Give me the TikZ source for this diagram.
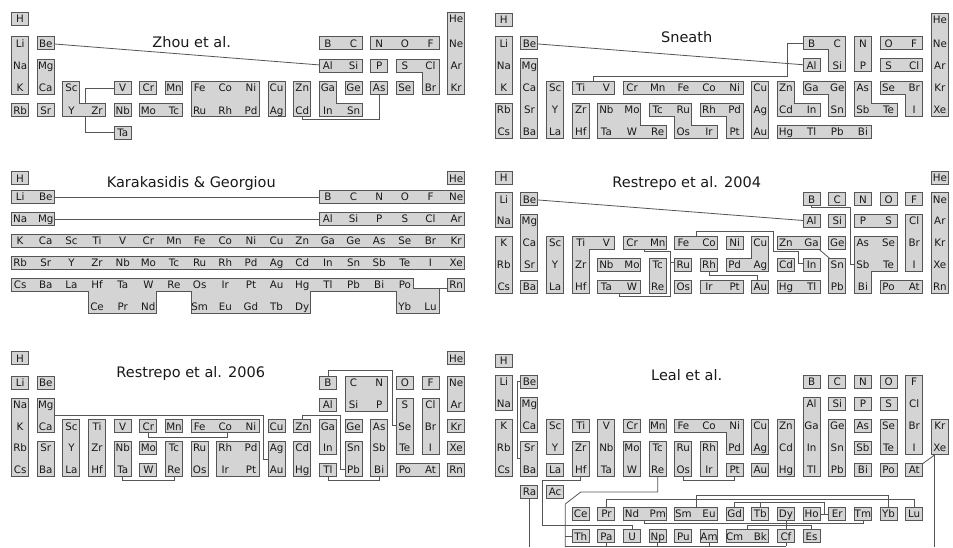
\documentclass[tikz,border=0pt]{standalone}
\usepackage{fontspec}
\setmainfont{DejaVu Sans}
\definecolor{cfill}{RGB}{212,212,212}
\definecolor{cline}{RGB}{85,85,85}
\definecolor{ctext}{RGB}{25,25,25}
\newcommand\Xo{0}\newcommand\Yh{0}\newcommand\Yl{0}\newcommand\Dy{22}
\newcommand\hw{8.0}\newcommand\hh{6.0}
\pgfmathdeclarefunction{cx}{1}{\pgfmathparse{\Xo+(#1-1)*25.65}}
\pgfmathdeclarefunction{cy}{1}{\pgfmathparse{ifthenelse(#1==1,-\Yh,-\Yl-(#1-2)*\Dy)}}
\newcommand\defrow[2]{\foreach \kk/\nn in {#2}{\expandafter\xdef\csname el\kk-#1\endcsname{\nn}}}
\defrow{1}{1/H,18/He}
\defrow{2}{1/Li,2/Be,13/B,14/C,15/N,16/O,17/F,18/Ne}
\defrow{3}{1/Na,2/Mg,13/Al,14/Si,15/P,16/S,17/Cl,18/Ar}
\defrow{4}{1/K,2/Ca,3/Sc,4/Ti,5/V,6/Cr,7/Mn,8/Fe,9/Co,10/Ni,11/Cu,12/Zn,13/Ga,14/Ge,15/As,16/Se,17/Br,18/Kr}
\defrow{5}{1/Rb,2/Sr,3/Y,4/Zr,5/Nb,6/Mo,7/Tc,8/Ru,9/Rh,10/Pd,11/Ag,12/Cd,13/In,14/Sn,15/Sb,16/Te,17/I,18/Xe}
\defrow{6}{1/Cs,2/Ba,3/La,4/Hf,5/Ta,6/W,7/Re,8/Os,9/Ir,10/Pt,11/Au,12/Hg,13/Tl,14/Pb,15/Bi,16/Po,17/At,18/Rn}
\defrow{R}{2/Ra,3/Ac}
\defrow{L}{4/Ce,5/Pr,6/Nd,7/Pm,8/Sm,9/Eu,10/Gd,11/Tb,12/Dy,13/Ho,14/Er,15/Tm,16/Yb,17/Lu}
\defrow{A}{4/Th,5/Pa,6/U,7/Np,8/Pu,9/Am,10/Cm,11/Bk,12/Cf,13/Es}
\newcommand\grp[1]{%
 \foreach \ga/\gb/\gc/\gd in {#1}{\draw[cline,line width=2pt] ({cx(\ga)-\hw},{cy(\gc)+\hh}) rectangle ({cx(\gb)+\hw},{cy(\gd)-\hh});}%
 \foreach \ga/\gb/\gc/\gd in {#1}{\fill[cfill] ({cx(\ga)-\hw},{cy(\gc)+\hh}) rectangle ({cx(\gb)+\hw},{cy(\gd)-\hh});}}
\newcommand\grps[1]{\foreach \gg in {#1}{\expandafter\grp\expandafter{\gg}}}
\newcommand\labs[3]{\foreach \kk in {#3}{\node[lab] at ({cx(\kk)},{cy(#1)-3.8}) {\csname el\kk-#2\endcsname};}}
\tikzset{lab/.style={font=\fontsize{10.3}{12}\selectfont,text=ctext,inner sep=0pt,anchor=base},
 ttl/.style={font=\fontsize{14.5}{17}\selectfont,text=ctext,inner sep=0pt,anchor=base},
 conn/.style={draw=cline,line width=0.8pt}}
\begin{document}
\begin{tikzpicture}[x=1pt,y=1pt]
\useasboundingbox (0,0) rectangle (953,-547);
\fill[white] (0,0) rectangle (953,-547);
% ---------------- Zhou
\begin{scope}
\def\Xo{20.1}\def\Yh{19}\def\Yl{43.3}\def\Dy{22.3}
\node[ttl] (tA) at (191.7,-47.5) {Zhou et al.};
\draw[conn] ({cx(2)},{cy(2)}) -- ({cx(13)},{cy(3)});
\draw[conn] ({cx(5)},{cy(4)}) -- ({cx(3)+13.5},{cy(4)}) -- ({cx(3)+13.5},{cy(6)}) -- ({cx(5)},{cy(6)});
\draw[conn] ({cx(12)},{cy(5)}) -- ({cx(12)},{cy(5)-9.2}) -- ({cx(15)},{cy(5)-9.2}) -- ({cx(15)},{cy(4)});
\grps{{1/1/1/1},{1/1/2/4},{1/1/5/5},{2/2/2/2},{2/2/3/4},{2/2/5/5},{3/3/4/5,3/4/5/5},{5/5/4/4},{5/5/5/5},{5/5/6/6},{6/6/4/4},{7/7/4/4},{6/7/5/5},{8/10/4/5},{11/11/4/5},{12/12/4/5},{13/13/4/5,13/14/5/5},{14/14/4/4},{15/15/4/4},{16/16/4/4},{16/17/3/3,17/17/3/4},{13/14/2/2},{15/17/2/2},{13/14/3/3},{15/15/3/3},{18/18/1/4}}
\labs{1}{1}{1,18}\labs{2}{2}{1,2,13,14,15,16,17,18}\labs{3}{3}{1,2,13,14,15,16,17,18}\labs{4}{4}{1,2,3,5,6,7,8,9,10,11,12,13,14,15,16,17,18}\labs{5}{5}{1,...,14}\labs{6}{6}{5}
\end{scope}
% ---------------- Sneath
\begin{scope}
\def\Xo{503.8}\def\Yh{20}\def\Yl{43.3}\def\Dy{22.1}
\node[ttl] (tB) at (686.7,-42.8) {Sneath};
\draw[conn] ({cx(2)},{cy(2)}) -- ({cx(13)},{cy(3)});
\draw[conn] ({cx(4)+12.8},{cy(4)}) -- ({cx(4)+12.8},{cy(4)+11}) -- ({cx(12)+1},{cy(4)+11}) -- ({cx(12)+1},{cy(2)}) -- ({cx(13)},{cy(2)});
\grps{{1/1/1/1},{1/1/2/4},{1/1/5/6},{2/2/2/2},{2/2/3/6},{3/3/4/6},{4/5/4/4},{4/4/5/6},{6/10/4/4},{5/6/5/6,5/7/6/6},{7/8/5/5,8/8/5/6,8/9/6/6},{9/10/5/5,10/10/5/6},{11/11/4/6},{12/12/4/5,12/13/5/5},{13/14/4/4,14/14/4/5},{12/15/6/6},{15/15/4/5,15/16/5/5},{16/17/4/4,17/17/4/5},{13/14/2/2,14/14/2/3},{13/13/3/3},{15/15/2/3},{16/17/2/2},{16/17/3/3},{18/18/1/5}}
\labs{1}{1}{1,18}\labs{2}{2}{1,2,13,14,15,16,17,18}\labs{3}{3}{1,2,13,14,15,16,17,18}\labs{4}{4}{1,...,18}\labs{5}{5}{1,...,18}\labs{6}{6}{1,...,15}
\end{scope}
% ---------------- Karakasidis
\begin{scope}
\def\Xo{20.1}\def\Yh{178.3}\def\Yl{197}\def\Dy{21.9}
\node[ttl] (tC) at (191.3,-187.5) {Karakasidis \& Georgiou};
\draw[conn] ({cx(2)},{cy(2)}) -- ({cx(13)},{cy(2)});
\draw[conn] ({cx(2)},{cy(3)}) -- ({cx(13)},{cy(3)});
\draw[conn] ({cx(16)},{cy(6)-4}) -- ({cx(18)},{cy(6)-4});
\grps{{1/1/1/1},{18/18/1/1},{1/2/2/2},{13/18/2/2},{1/2/3/3},{13/18/3/3},{1/18/4/4},{1/18/5/5},{18/18/6/6}}
\foreach \ga/\gb/\gc/\gd in {1/16/6/6,4/6/6/7,8/12/6/7}{\draw[cline,line width=2pt] ({cx(\ga)-\hw},{cy(\gc)+\hh}) rectangle ({cx(\gb)+\hw},{cy(\gd)-\hh});}
\draw[cline,line width=2pt] ({cx(16)-\hw},{cy(6)-4}) rectangle ({cx(17)+\hw},{cy(7)-\hh});
\foreach \ga/\gb/\gc/\gd in {1/16/6/6,4/6/6/7,8/12/6/7}{\fill[cfill] ({cx(\ga)-\hw},{cy(\gc)+\hh}) rectangle ({cx(\gb)+\hw},{cy(\gd)-\hh});}
\fill[cfill] ({cx(16)-\hw},{cy(6)-4}) rectangle ({cx(17)+\hw},{cy(7)-\hh});
\labs{1}{1}{1,18}\labs{2}{2}{1,2,13,14,15,16,17,18}\labs{3}{3}{1,2,13,14,15,16,17,18}\labs{4}{4}{1,...,18}\labs{5}{5}{1,...,18}\labs{6}{6}{1,...,16,18}\labs{7}{L}{4,5,6,8,9,10,11,12,16,17}
\end{scope}
% ---------------- Restrepo 2004
\begin{scope}
\def\Xo{503.8}\def\Yh{177.5}\def\Yl{199.3}\def\Dy{21.85}
\node[ttl] (tD) at (686.7,-187.3) {Restrepo et al. 2004};
\draw[conn] ({cx(2)},{cy(2)}) -- ({cx(13)},{cy(3)});
\draw[conn] ({cx(13)},{cy(2)}) -- ({cx(13)},{cy(2)-8.5}) -- ({cx(14)+12.8},{cy(2)-8.5}) -- ({cx(14)+12.8},{cy(5)}) -- ({cx(15)},{cy(5)});
\draw[conn] ({cx(6)+12.8},{cy(4)}) -- ({cx(6)+12.8},{cy(4)-8.5}) -- ({cx(7)+12.8},{cy(4)-8.5}) -- ({cx(7)+12.8},{cy(6)-10}) -- ({cx(5)+12.8},{cy(6)-10}) -- ({cx(5)+12.8},{cy(6)});
\draw[conn] ({cx(7)+12.8},{cy(5)+2}) -- ({cx(8)},{cy(5)+2});
\draw[conn] ({cx(8)+12.8},{cy(4)}) -- ({cx(8)+12.8},{cy(4)+12}) -- ({cx(11)+12.8},{cy(4)+12}) -- ({cx(11)+12.8},{cy(4)-8.6}) -- ({cx(12)+12.8},{cy(4)-8.6}) -- ({cx(12)+12.8},{cy(5)+1}) -- ({cx(13)},{cy(5)+1});
\draw[conn] ({cx(9)},{cy(5)}) -- ({cx(9)},{cy(5)-10.5}) -- ({cx(11)-3},{cy(5)-10.5}) -- ({cx(11)-3},{cy(6)});
\draw[conn] ({cx(13)},{cy(4)}) -- ({cx(14)},{cy(5)});
\grps{{1/1/1/1},{18/18/1/1},{1/1/2/3},{1/1/4/6},{2/2/2/2},{2/2/3/5},{2/2/6/6},{3/3/4/6},{4/5/4/4,4/4/4/6},{6/7/4/4},{5/6/5/5},{5/6/6/6},{7/7/5/6},{8/9/4/4},{10/10/4/4},{11/11/4/5,10/11/5/5},{8/8/5/5},{9/9/5/5},{8/8/6/6},{9/10/6/6},{11/11/6/6},{12/13/4/4},{14/14/4/4},{12/12/5/5},{13/13/5/5},{14/14/5/6},{12/13/6/6},{13/13/2/2},{14/14/2/2},{15/15/2/2},{16/16/2/2},{17/17/2/2},{13/13/3/3},{14/14/3/3},{15/16/3/3},{17/17/3/5},{15/16/4/5,15/15/4/6},{16/17/6/6},{18/18/2/6}}
\labs{1}{1}{1,18}\labs{2}{2}{1,2,13,14,15,16,17,18}\labs{3}{3}{1,2,13,14,15,16,17,18}\labs{4}{4}{1,...,18}\labs{5}{5}{1,...,18}\labs{6}{6}{1,...,18}
\end{scope}
% ---------------- Restrepo 2006
\begin{scope}
\def\Xo{20.1}\def\Yh{358.2}\def\Yl{383}\def\Dy{21.7}
\node[ttl] (tE) at (190.8,-377.5) {Restrepo et al. 2006};
\draw[conn] ({cx(2)},{(cy(3)+cy(4))/2}) -- ({cx(10)+12.8},{(cy(3)+cy(4))/2}) -- ({cx(10)+12.8},{(cy(5)+cy(6))/2}) -- ({cx(11)},{(cy(5)+cy(6))/2});
\draw[conn] ({cx(6)},{cy(4)}) -- ({cx(6)},{(cy(4)+cy(5))/2}) -- ({cx(9)+2},{(cy(4)+cy(5))/2}) -- ({cx(9)+2},{cy(4)});
\draw[conn] ({cx(5)},{cy(6)}) -- ({cx(5)},{cy(6)-11}) -- ({cx(7)},{cy(6)-11}) -- ({cx(7)},{cy(6)});
\draw[conn] ({cx(13)},{cy(6)}) -- ({cx(13)},{cy(6)-11}) -- ({cx(15)},{cy(6)-11}) -- ({cx(15)},{cy(6)});
\draw[conn] ({cx(12)},{cy(4)}) -- ({cx(12)},{(cy(3)+cy(4))/2}) -- ({cx(13)+12.8},{(cy(3)+cy(4))/2}) -- ({cx(13)+12.8},{cy(6)}) -- ({cx(14)},{cy(6)});
\draw[conn] ({cx(13)},{cy(2)}) -- ({cx(13)},{(cy(1)+cy(2))/2}) -- ({cx(15)+12.8},{(cy(1)+cy(2))/2}) -- ({cx(15)+12.8},{cy(4)+1.5}) -- ({cx(16)},{cy(4)+1.5});
\grps{{1/1/1/1},{18/18/1/1},{1/1/2/2},{2/2/2/2},{1/1/3/6},{2/2/3/4},{2/2/5/6},{3/3/4/6},{4/4/4/6},{5/5/4/4},{5/5/5/6},{6/6/4/4},{7/7/4/4},{8/10/4/4},{6/6/5/5},{6/6/6/6},{7/7/5/6},{8/8/5/6},{9/10/5/6},{11/11/4/4},{11/11/5/6},{12/12/4/4},{12/12/5/6},{13/13/4/5},{13/13/6/6},{14/14/4/4},{14/14/5/6},{15/15/4/6},{13/13/2/2},{14/15/2/3},{13/13/3/3},{16/16/2/2},{17/17/2/2},{16/16/3/5},{17/17/3/5},{18/18/2/3},{18/18/4/4},{18/18/5/5},{18/18/6/6},{16/17/6/6}}
\labs{1}{1}{1,18}\labs{2}{2}{1,2,13,14,15,16,17,18}\labs{3}{3}{1,2,13,14,15,16,17,18}\labs{4}{4}{1,...,18}\labs{5}{5}{1,...,18}\labs{6}{6}{1,...,18}
\end{scope}
% ---------------- Leal
\begin{scope}
\def\Xo{503.8}\def\Yh{360.8}\def\Yl{381.5}\def\Dy{22.1}
\node[ttl] (tF) at (686.7,-380.7) {Leal et al.};
\draw[conn] ({cx(2)},{cy(2)}) -- ({cx(1)+14},{cy(2)}) -- ({cx(1)+14},{(cy(5)+cy(6))/2}) -- ({cx(2)},{(cy(5)+cy(6))/2});
\draw[conn] ({cx(2)},{cy(7)}) -- ({cx(2)},-547);
\draw[conn] ({cx(18)-5.5},{cy(5)}) -- ({cx(18)-5.5},-547);
\draw[conn] ({cx(17)},{cy(6)}) -- ({cx(18)-5.5},{cy(5)-7.3});
\draw[conn] ({cx(4)},{cy(6)}) -- ({cx(4)},{cy(6)-10}) -- ({cx(2)+12.8},{cy(6)-10}) -- ({cx(2)+12.8},{(cy(8)+cy(9))/2}) -- ({cx(6)},{(cy(8)+cy(9))/2}) -- ({cx(6)},{cy(9)});
\draw[conn] ({cx(7)},{cy(6)}) -- ({cx(7)},{cy(7)}) -- ({cx(4)},{cy(7)}) -- ({cx(4)-15.5},{cy(7)-12}) -- ({cx(4)-15.5},-547);
\draw[conn] ({cx(4)-15.5},{cy(9)}) -- ({cx(4)},{cy(9)});
\draw[conn] ({cx(8)},{cy(6)}) -- ({cx(8)},{cy(6)-10}) -- ({cx(10)},{cy(6)-10}) -- ({cx(10)},{cy(6)});
\draw[conn] ({cx(8)+12.8},{cy(8)}) -- ({cx(8)+12.8},{cy(8)+19}) -- ({cx(16)},{cy(8)+19}) -- ({cx(16)},{cy(8)});
\draw[conn] ({cx(5)},{cy(8)}) -- ({cx(5)},{cy(8)+14.5}) -- ({cx(17)},{cy(8)+14.5}) -- ({cx(17)},{cy(8)});
\draw[conn] ({cx(10)},{cy(8)}) -- ({cx(10)},{cy(8)+12}) -- ({cx(13)+12.8},{cy(8)+12}) -- ({cx(13)+12.8},{cy(8)});
\draw[conn] ({cx(11)},{cy(8)}) -- ({cx(11)},{cy(8)+12});
\draw[conn] ({cx(13)},{cy(8)}) -- ({cx(14)},{cy(8)});
\draw[conn] ({cx(6)+12.8},{cy(8)}) -- ({cx(6)+12.8},{cy(8)-9}) -- ({cx(15)},{cy(8)-9}) -- ({cx(15)},{cy(8)});
\draw[conn] ({cx(12)},{cy(8)}) -- ({cx(12)},{cy(9)});
\draw[conn] ({cx(10)+12.8},{cy(9)}) -- ({cx(10)+12.8},{cy(8)-10.8}) -- ({cx(13)},{cy(8)-10.8}) -- ({cx(13)},{cy(9)});
\draw[conn] ({cx(4)-15.5},-546) -- ({cx(12)},-546);
\foreach \kk in {5,7,9,12}{\draw[conn] ({cx(\kk)},{cy(9)}) -- ({cx(\kk)},-546);}
\grps{{1/1/1/1},{1/1/2/3},{1/1/4/6},{2/2/2/2},{2/2/3/4},{2/2/5/6},{3/3/4/5},{3/3/6/6},{4/4/4/4},{4/4/5/6},{5/5/4/6},{6/6/4/4},{6/6/5/6},{7/7/4/4},{7/7/5/6},{8/10/4/4,10/10/4/5},{8/8/5/6},{9/9/5/6},{10/10/6/6},{11/11/4/5},{11/11/6/6},{12/12/4/6},{13/13/2/2},{14/14/2/2},{15/15/2/2},{16/16/2/2},{17/17/2/5},{13/13/3/6},{14/14/3/3},{14/14/4/6},{15/15/3/3},{15/15/4/4},{15/15/5/5},{15/15/6/6},{16/16/3/3},{16/16/4/5},{16/16/6/6},{17/17/6/6},{18/18/4/5},{2/2/7/7},{3/3/7/7},{4/4/8/8},{5/5/8/8},{6/7/8/8},{8/9/8/8},{10/10/8/8},{11/11/8/8},{12/12/8/8},{13/13/8/8},{14/14/8/8},{15/15/8/8},{16/16/8/8},{17/17/8/8},{4/4/9/9},{5/5/9/9},{6/6/9/9},{7/7/9/9},{8/8/9/9},{9/9/9/9},{10/11/9/9},{12/12/9/9},{13/13/9/9}}
\labs{1}{1}{1}\labs{2}{2}{1,2,13,14,15,16,17}\labs{3}{3}{1,2,13,14,15,16,17}\labs{4}{4}{1,...,18}\labs{5}{5}{1,...,18}\labs{6}{6}{1,...,17}\labs{7}{R}{2,3}\labs{8}{L}{4,...,17}\labs{9}{A}{4,...,13}
\end{scope}
\end{tikzpicture}
\end{document}
